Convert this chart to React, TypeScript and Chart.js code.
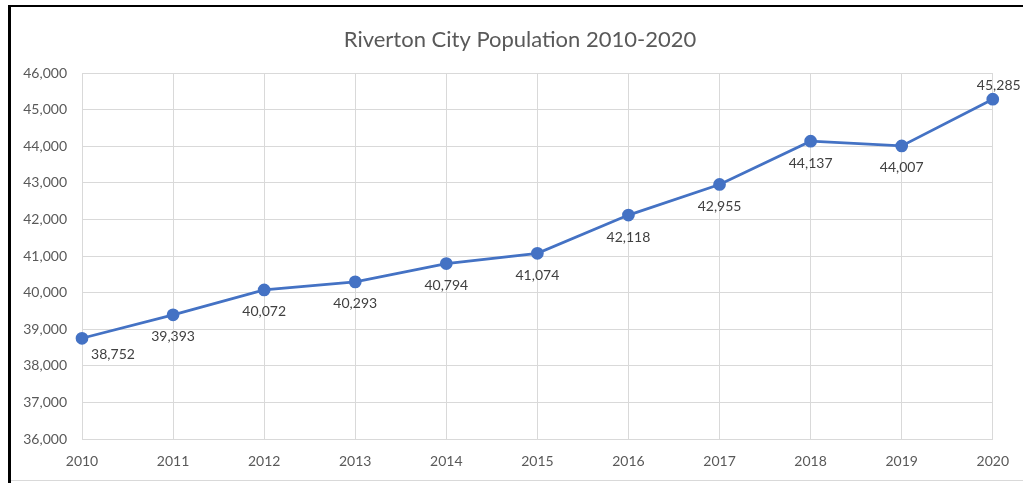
import React, { useEffect, useRef } from "react";
import { Chart, registerables } from "chart.js";

Chart.register(...registerables);

const years = ["2010", "2011", "2012", "2013", "2014", "2015", "2016", "2017", "2018", "2019", "2020"];
const population = [38752, 39393, 40072, 40293, 40794, 41074, 42118, 42955, 44137, 44007, 45285];
const yMin = 36000;
const yMax = 46000;
const yStep = 1000;
const titleText = "Riverton City Population 2010-2020";

const fmt = (v: number) => v.toLocaleString("en-US");
const FONT = "Lato, 'Open Sans', sans-serif";

const labelPlugin = {
  id: "pointLabels",
  afterDatasetsDraw(chart: any) {
    const ctx = chart.ctx;
    const meta = chart.getDatasetMeta(0);
    const data = chart.data.datasets[0].data as number[];
    ctx.save();
    ctx.font = `14px ${FONT}`;
    ctx.fillStyle = "#404040";
    ctx.textAlign = "center";
    ctx.textBaseline = "middle";
    const n = meta.data.length;
    meta.data.forEach((pt: any, i: number) => {
      let dx = 0;
      let dy = 22;
      if (i === 0) {
        dx = 31;
        dy = 16;
      } else if (i === n - 1) {
        dx = 6;
        dy = -14;
      }
      ctx.fillText(fmt(data[i]), pt.x + dx, pt.y + dy);
    });
    ctx.restore();
  },
};

const titlePlugin = {
  id: "offsetTitle",
  afterDraw(chart: any) {
    const ctx = chart.ctx;
    ctx.save();
    ctx.font = `22px ${FONT}`;
    ctx.fillStyle = "#595959";
    ctx.textAlign = "center";
    ctx.textBaseline = "middle";
    ctx.fillText(titleText, 520, 40);
    ctx.restore();
  },
};

export default function App() {
  const ref = useRef<HTMLCanvasElement>(null);
  useEffect(() => {
    document.body.style.margin = "0";
    const chart = new Chart(ref.current!, {
      type: "line",
      data: {
        labels: years,
        datasets: [
          {
            data: population,
            borderColor: "#4472C4",
            backgroundColor: "#4472C4",
            borderWidth: 2.75,
            pointRadius: 5,
            pointHoverRadius: 5,
            pointBackgroundColor: "#4472C4",
            pointBorderColor: "#4472C4",
            tension: 0,
          },
        ],
      },
      options: {
        responsive: false,
        animation: false,
        layout: { padding: { left: 10, right: 28, top: 73, bottom: 14 } },
        plugins: {
          legend: { display: false },
          tooltip: { enabled: false },
          title: { display: false },
        },
        scales: {
          x: {
            type: "category",
            offset: false,
            afterFit: (scale: any) => {
              scale.height = 30;
            },
            grid: { color: "#D9D9D9", lineWidth: 1, drawTicks: false },
            border: { color: "#D9D9D9" },
            ticks: {
              color: "#595959",
              font: { family: FONT, size: 14 },
              padding: 14,
              maxRotation: 0,
              autoSkip: false,
            },
          },
          y: {
            min: yMin,
            max: yMax,
            afterFit: (scale: any) => {
              scale.width = 72;
            },
            grid: { color: "#D9D9D9", lineWidth: 1, drawTicks: false },
            border: { display: false },
            ticks: {
              stepSize: yStep,
              color: "#595959",
              font: { family: FONT, size: 14 },
              padding: 15,
              callback: (v: any) => fmt(Number(v)),
            },
          },
        },
      },
      plugins: [labelPlugin, titlePlugin],
    });
    return () => chart.destroy();
  }, []);
  return (
    <div style={{ position: "relative", width: 1023, height: 483, background: "#fff" }}>
      <canvas ref={ref} width={1023} height={483} style={{ display: "block" }} />
      <div
        style={{
          position: "absolute",
          left: 8,
          top: 5,
          right: 0,
          bottom: 0,
          borderLeft: "3px solid #000",
          borderTop: "2px solid #000",
          pointerEvents: "none",
        }}
      />
      <div
        style={{
          position: "absolute",
          left: 11,
          right: 0,
          top: 480,
          height: 1,
          background: "#D9D9D9",
          pointerEvents: "none",
        }}
      />
    </div>
  );
}
